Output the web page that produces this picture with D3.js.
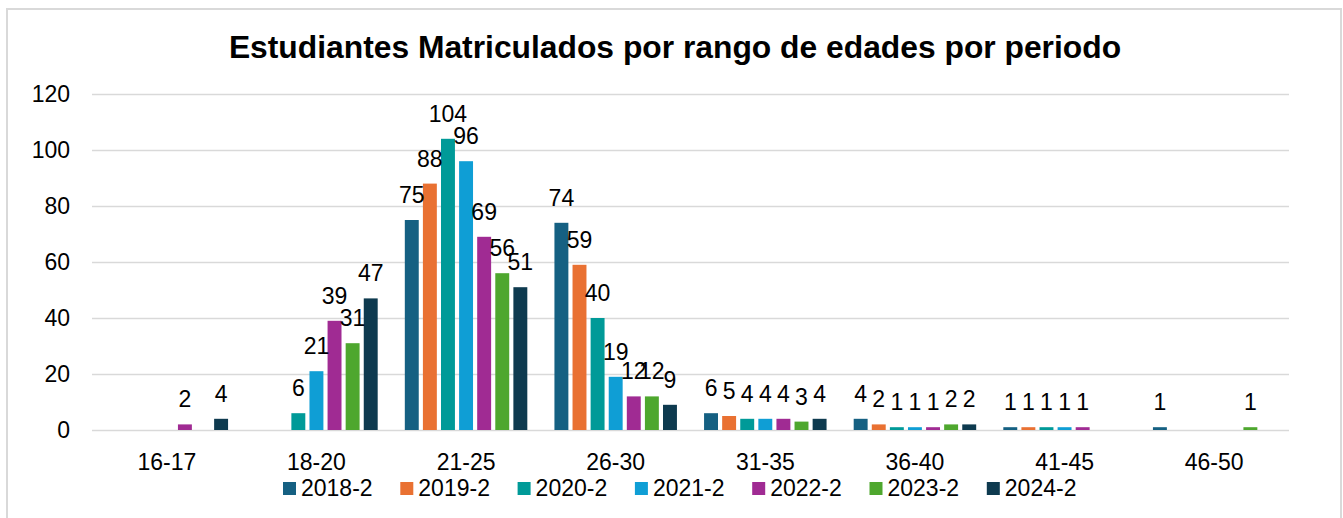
<!DOCTYPE html>
<html>
<head>
<meta charset="utf-8">
<script src="https://cdn.jsdelivr.net/npm/d3@7"></script>
<style>
  body { margin: 0; background: #fff; }
  text { font-family: "Liberation Sans", Arial, sans-serif; fill: #000; }
</style>
</head>
<body>
<svg id="svg1"></svg>
<script>
const categories = ["16-17", "18-20", "21-25", "26-30", "31-35", "36-40", "41-45", "46-50"];
const periods = ["2018-2", "2019-2", "2020-2", "2021-2", "2022-2", "2023-2", "2024-2"];
// one array per period, null = no bar
const v2018 = [null, null, 75, 74, 6, 4, 1, 1];
const v2019 = [null, null, 88, 59, 5, 2, 1, null];
const v2020 = [null, 6, 104, 40, 4, 1, 1, null];
const v2021 = [null, 21, 96, 19, 4, 1, 1, null];
const v2022 = [2, 39, 69, 12, 4, 1, 1, null];
const v2023 = [null, 31, 56, 12, 3, 2, null, 1];
const v2024 = [4, 47, 51, 9, 4, 2, null, null];
const yTicks = [0, 20, 40, 60, 80, 100, 120];
const colors = ["#156082", "#E97132", "#009A98", "#0F9ED5", "#A02B93", "#4EA72E", "#0E3A4F"];

const seriesValues = [v2018, v2019, v2020, v2021, v2022, v2023, v2024];

const width = 1343, height = 518;
const margin = {top: 94, right: 54, bottom: 88, left: 92};
const plotW = width - margin.left - margin.right;
const plotH = height - margin.top - margin.bottom;

const svg = d3.select('#svg1')
    .attr('width', width)
    .attr('height', height);

// chart border
svg.append('rect')
    .attr('x', 7).attr('y', 9)
    .attr('width', 1334).attr('height', 530)
    .attr('fill', 'none')
    .attr('stroke', '#d9d9d9')
    .attr('stroke-width', 2);

svg.append('text')
    .attr('x', 675).attr('y', 58)
    .attr('text-anchor', 'middle')
    .style('font-size', '31.8px')
    .style('font-weight', 'bold')
    .text('Estudiantes Matriculados por rango de edades por periodo');

const g = svg.append('g')
    .attr('transform', 'translate(' + margin.left + ',' + margin.top + ')');

const x = d3.scaleBand()
    .domain(categories)
    .range([0, plotW]);

const xs = d3.scaleBand()
    .domain(periods)
    .range([x.bandwidth() / 2 - 61.25, x.bandwidth() / 2 + 61.25])
    .paddingInner(0.23);

const y = d3.scaleLinear()
    .domain([0, 120])
    .range([plotH, 0]);

// gridlines
g.append('g')
    .call(d3.axisLeft(y).tickValues(yTicks).tickSize(-plotW).tickFormat(''))
    .call(a => a.select('.domain').remove())
    .selectAll('line')
    .attr('stroke', '#d9d9d9')
    .attr('stroke-width', 1.5);

// y labels
g.append('g')
    .selectAll('text')
    .data(yTicks)
    .enter()
    .append('text')
    .attr('x', -22)
    .attr('y', d => y(d))
    .attr('dy', '0.35em')
    .attr('text-anchor', 'end')
    .style('font-size', '23px')
    .text(d => d);

// x labels
g.append('g')
    .selectAll('text')
    .data(categories)
    .enter()
    .append('text')
    .attr('x', d => x(d) + x.bandwidth() / 2)
    .attr('y', plotH + 40)
    .attr('text-anchor', 'middle')
    .style('font-size', '23px')
    .text(d => d);

const flat = [];
seriesValues.forEach(function(vals, si) {
  vals.forEach(function(v, ci) {
    if (v != null) flat.push({period: periods[si], cat: categories[ci], value: v, color: colors[si]});
  });
});

g.selectAll('rect.bar')
    .data(flat)
    .enter()
    .append('rect')
    .attr('class', 'bar')
    .attr('x', d => x(d.cat) + xs(d.period))
    .attr('y', d => y(d.value))
    .attr('width', xs.bandwidth())
    .attr('height', d => plotH - y(d.value))
    .attr('fill', d => d.color);

g.selectAll('text.lbl')
    .data(flat)
    .enter()
    .append('text')
    .attr('class', 'lbl')
    .attr('x', d => x(d.cat) + xs(d.period) + xs.bandwidth() / 2)
    .attr('y', d => y(d.value) - 17)
    .attr('text-anchor', 'middle')
    .style('font-size', '23px')
    .text(d => d.value);

// legend
const legend = svg.append('g')
    .attr('transform', 'translate(283,0)');
const item = legend.selectAll('g')
    .data(periods)
    .enter()
    .append('g')
    .attr('transform', (d, i) => 'translate(' + (i * 117.3) + ',0)');
item.append('rect')
    .attr('x', 0).attr('y', 482)
    .attr('width', 13).attr('height', 13)
    .attr('fill', (d, i) => colors[i]);
item.append('text')
    .attr('x', 18).attr('y', 496)
    .style('font-size', '23px')
    .text(d => d);
</script>
</body>
</html>
